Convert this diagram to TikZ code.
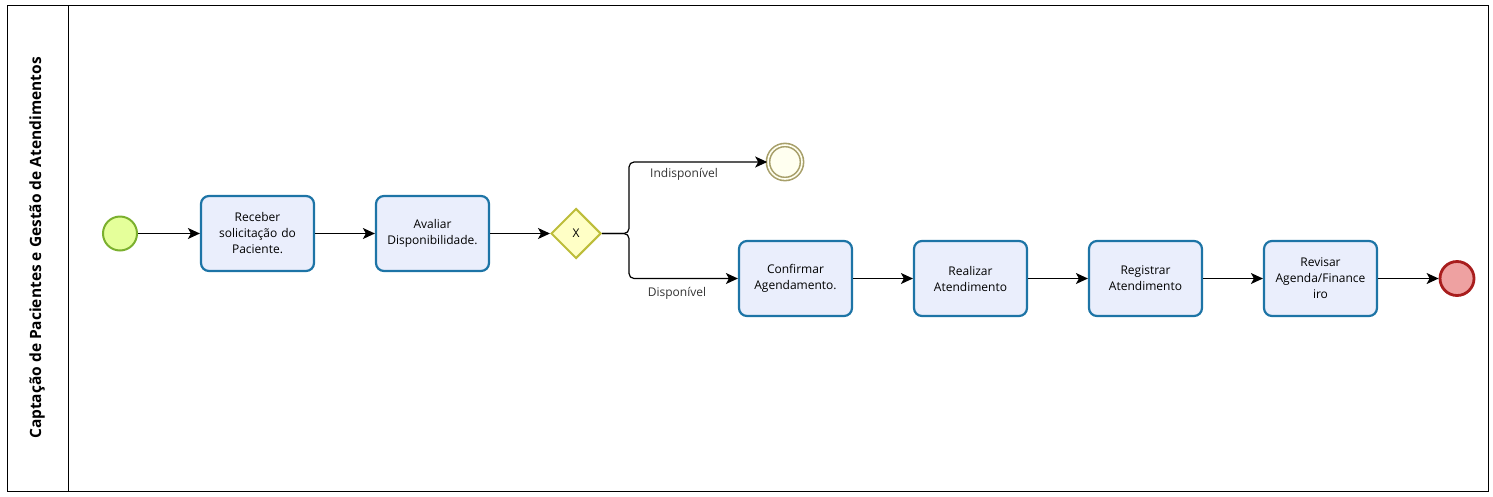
\documentclass[tikz,border=0pt]{standalone}
\usepackage{fontspec}
\setmainfont{Open Sans}
\usetikzlibrary{arrows.meta,shapes.geometric}

\definecolor{taskfill}{HTML}{EAEEFC}
\definecolor{taskline}{HTML}{1D74A6}
\definecolor{startfill}{HTML}{E5FF9A}
\definecolor{startline}{HTML}{7BB02E}
\definecolor{gwfill}{HTML}{FFFFC6}
\definecolor{gwline}{HTML}{BDBD3A}
\definecolor{midfill}{HTML}{FFFFF0}
\definecolor{midline}{HTML}{A79F6A}
\definecolor{endfill}{HTML}{EEA1A1}
\definecolor{endline}{HTML}{A81D1D}

\tikzset{
  task/.style={draw=taskline, fill=taskfill, line width=2.2pt, rounded corners=8pt,
    minimum width=113pt, minimum height=75pt, align=center, text width=105pt,
    font=\fontsize{12}{16}\selectfont},
  startev/.style={circle, draw=startline, fill=startfill, line width=2pt, minimum size=34pt},
  endev/.style={circle, draw=endline, fill=endfill, line width=2.8pt, minimum size=34pt},
  midev/.style={circle, draw=midline, fill=midfill, line width=1.6pt, minimum size=34pt,
    double=midfill, double distance=1.6pt},
  gateway/.style={diamond, draw=gwline, fill=gwfill, line width=2pt, minimum size=50pt,
    inner sep=0pt, font=\fontsize{12}{14}\selectfont},
  flow/.style={-{Stealth[length=12pt,width=11pt,inset=3pt]}, line width=1.2pt},
  flowlabel/.style={font=\fontsize{12}{14}\selectfont, text=black!80}
}

\begin{document}
\begin{tikzpicture}[x=1pt,y=-1pt]
  \useasboundingbox (0,0) rectangle (1493,496);

  % pool and lane
  \draw[line width=1pt] (7,5) rectangle (1488,491);
  \draw[line width=1pt] (68,5) -- (68,491);
  \node[rotate=90, font=\fontsize{15.5}{18}\selectfont\bfseries] (lane) at (37,248)
    {Captação de Pacientes e Gestão de Atendimentos};

  % events and tasks
  \node[startev] (start) at (120,233.5) {};
  \node[task] (receber) at (257.5,233.5) {Receber\\solicitação do\\Paciente.};
  \node[task] (avaliar) at (432.5,233.5) {Avaliar\\Disponibilidade.};
  \node[gateway] (gw) at (576,233.5) {X};
  \node[midev] (indisp) at (785,162) {};
  \node[task] (confirmar) at (795.5,278.5) {Confirmar\\Agendamento.};
  \node[task] (realizar) at (970.5,278.5) {Realizar\\Atendimento};
  \node[task] (registrar) at (1145.5,278.5) {Registrar\\Atendimento};
  \node[task] (revisar) at (1320.5,278.5) {Revisar\\Agenda/Finance\\iro};
  \node[endev] (fim) at (1457,278.5) {};

  % flows
  \draw[flow] (start) -- (receber);
  \draw[flow] (receber) -- (avaliar);
  \draw[flow] (avaliar) -- (gw);
  \draw[flow, rounded corners=5pt] (gw.east) -- ++(27,0) |- (indisp);
  \draw[flow, rounded corners=5pt] (gw.east) -- ++(27,0) |- (confirmar);
  \draw[flow] (confirmar) -- (realizar);
  \draw[flow] (realizar) -- (registrar);
  \draw[flow] (registrar) -- (revisar);
  \draw[flow] (revisar) -- (fim);

  % labels
  \node[flowlabel] (lblind) at (684,174) {Indisponível};
  \node[flowlabel] (lbldisp) at (677,293) {Disponível};
\end{tikzpicture}
\end{document}
